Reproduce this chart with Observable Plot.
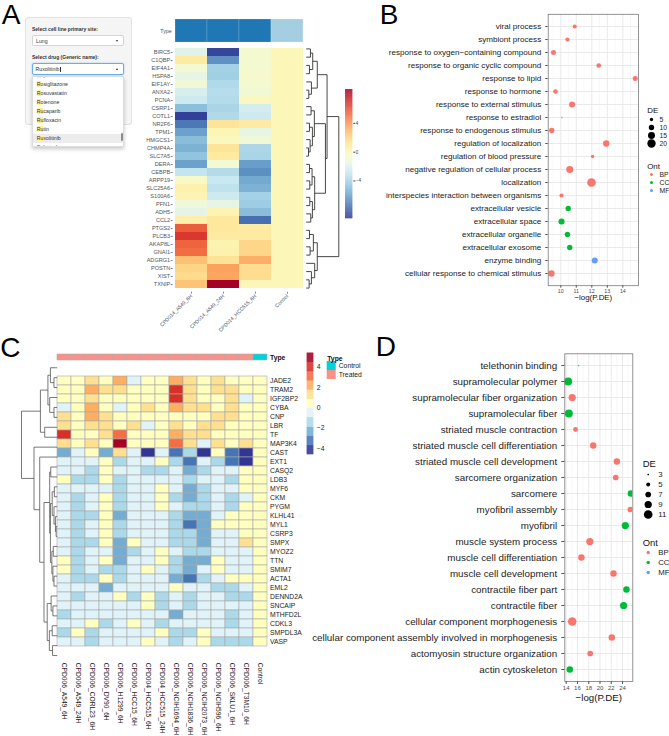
<!DOCTYPE html>
<html>
<head>
<meta charset="utf-8">
<script src="https://cdn.jsdelivr.net/npm/d3@7"></script>
<script src="https://cdn.jsdelivr.net/npm/@observablehq/plot@0.6"></script>
<style>
html,body{margin:0;padding:0;background:#fff;}
#page{position:relative;width:669px;height:736px;overflow:hidden;background:#fff;}
</style>
</head>
<body>
<div id="page"></div>
<script>
// ====================== DATA ======================
// --- Panel A: app widget ---
const widgetLabels = ["Select cell line primary site:", "Select drug (Generic name):"];
const widgetSite = "Lung";
const widgetDrug = "Ruxolitinib";
const widgetQuery = "Ru";
const drugOptions = ["Ropinirole", "Rosiglitazone", "Rosuvastatin", "Rotenone", "Rucaparib", "Rufloxacin", "Rutin", "Ruxolitinib", "Sabutoclax"];

// --- Panel A: heatmap ---
const colsA = ["CPD014_A549_6H", "CPD014_A549_24H", "CPD014_HCC515_6H", "Control"];
const typeA = ["Treated", "Treated", "Treated", "Control"];
const typeLevelsA = ["Treated", "Control"];
const typeColorsA = ["#1f78b4", "#a6cee3"];
const genesA = ["BIRC5","C1QBP","EIF4A1","HSPA8","EIF1AY","ANXA2","PCNA","CSRP1","COTL1","NR2F6","TPM1","HMGCS1","CHMP4A","SLC7A5","DERA","CEBPB","ARPP19","SLC25A6","S100A6","PFN1","ADH5","CCL2","PTGS2","PLCB3","AKAP8L","GNAI1","ADGRG1","POSTN","XIST","TXNIP"];
const a549_6h   = [-1.9, 0.9,-0.9,-1.6,-1.1,-2.3,-2.6,-4.9,-9.0,-7.3,-6.0,-5.0,-5.4,-4.7,-6.0,-3.0,-0.5, 0.4, 0.2,-1.2,-1.7, 0.5, 5.6, 6.7, 5.4, 5.1, 2.6, 1.9, 1.6, 2.5];
const a549_24h  = [-8.8,-6.5,-4.1,-4.2,-3.7,-3.5,-3.6,-3.9,-3.7, 1.2, 0.1,-0.2, 1.2, 0.9,-0.9,-3.6,-2.8,-3.2,-2.6,-1.6, 0.2, 1.0, 1.0, 0.9, 0.3, 0.4, 1.3, 3.6, 3.5, 8.7];
const hcc515_6h = [-0.8,-0.8,-0.8,-0.7,-0.8,-1.0,-0.3,-2.4,-2.6, 0.9,-1.6,-1.1,-3.8,-3.9,-6.1,-6.6,-5.7,-5.4,-4.1,-4.3,-5.0,-7.6, 0.8, 0.9, 1.8, 1.8, 3.2, 1.5, 1.5, 0.0];
const controlA  = new Array(30).fill(0);
const rangeA = [-9.25, 8.7];
const ticksA = [4, 0, -4];
// dendrogram: [height, left, right]
const treeA = [10,
  [6.4,
    [3.4, [2.0, [1.3, "BIRC5", "C1QBP"], [1.0, "EIF4A1", "HSPA8"]], [1.6, "EIF1AY", [0.8, "ANXA2", "PCNA"]]],
    [5.9,
      [2.5, [1.5, "CSRP1", "COTL1"], [1.9, [1.0, "NR2F6", "TPM1"], [1.2, "HMGCS1", [0.7, "CHMP4A", "SLC7A5"]]]],
      [2.6, [1.8, [1.0, "DERA", "CEBPB"], [1.1, "ARPP19", "SLC25A6"]], [1.9, [1.1, "S100A6", "PFN1"], [1.4, "ADH5", "CCL2"]]]]],
  [3.4, [2.2, [1.0, "PTGS2", "PLCB3"], [1.2, "AKAP8L", "GNAI1"]], [2.6, "ADGRG1", [1.6, "POSTN", [0.9, "XIST", "TXNIP"]]]]];

// --- Panel B: GO dot plot ---
const termsB = ["viral process","symbiont process","response to oxygen\u2212containing compound","response to organic cyclic compound","response to lipid","response to hormone","response to external stimulus","response to estradiol","response to endogenous stimulus","regulation of localization","regulation of blood pressure","negative regulation of cellular process","localization","interspecies interaction between organisms","extracellular vesicle","extracellular space","extracellular organelle","extracellular exosome","enzyme binding","cellular response to chemical stimulus"];
const logpB = [10.9, 10.43, 9.53, 12.45, 14.8, 9.66, 10.73, 10.07, 9.42, 12.93, 12.05, 10.58, 11.98, 10.05, 10.48, 10.05, 10.43, 10.58, 12.19, 9.4];
const deB   = [7, 7, 9, 8, 9, 8, 12, 2, 10, 13, 5, 15, 22, 7, 10, 12, 10, 10, 12, 13];
const ontB  = ["BP","BP","BP","BP","BP","BP","BP","BP","BP","BP","BP","BP","BP","BP","CC","CC","CC","CC","MF","BP"];
const xDomainB = [9.19, 15.01];
const xTicksB = [10, 11, 12, 13, 14];
const xMinorB = [9.5, 10.5, 11.5, 12.5, 13.5, 14.5];
const deBreaksB = [5, 10, 15, 20];

// --- Panel C: heatmap ---
const colsC = ["CPD006_A549_6H","CPD006_A549_24H","CPD006_CORL23_6H","CPD006_DV90_6H","CPD006_H1299_6H","CPD006_HCC15_6H","CPD004_HCC515_6H","CPD004_HCC515_24H","CPD006_NCIH1694_6H","CPD006_NCIH1836_6H","CPD006_NCIH2073_6H","CPD006_NCIH596_6H","CPD006_SKLU1_6H","CPD006_T3M10_6H","Control"];
const typeC = ["Treated","Treated","Treated","Treated","Treated","Treated","Treated","Treated","Treated","Treated","Treated","Treated","Treated","Treated","Control"];
const typeLevelsC = ["Control", "Treated"];
const typeColorsC = ["#00d1da", "#fa9189"];
const genesC = ["JADE2","TRAM2","IGF2BP2","CYBA","CNP","LBR","TF","MAP3K4","CAST","EXT1","CASQ2","LDB3","MYF6","CKM","PYGM","KLHL41","MYL1","CSRP3","SMPX","MYOZ2","TTN","SMIM7","ACTA1","EML2","DENND2A","SNCAIP","MTHFD2L","CDKL3","SMPDL3A","VASP"];
const valuesC = [
  [ 0.2, 0.2, 1.3, 0.2, 2.2,-0.5, 0.2, 0.2, 2.2, 1.3, 0.2, 1.3, 0.2, 0.2, 0],
  [ 0.2, 0.2, 2.2, 1.3, 1.3, 0.2, 0.2, 0.2, 4.0, 1.3, 0.2, 1.3, 1.3, 0.2, 0],
  [ 0.2, 0.2, 1.3, 0.2, 0.2, 0.2, 0.2, 0.2, 4.0, 1.3, 0.2, 0.2, 1.3,-0.5, 0],
  [-0.5, 0.2, 2.2, 0.2,-0.5, 0.2, 1.3, 0.2, 2.2, 1.3, 1.3, 0.2, 1.3, 0.2, 0],
  [ 1.3, 0.2, 2.2, 1.3, 0.2, 0.2, 0.2, 0.2, 0.2, 0.2, 0.2, 1.3, 1.3, 0.2, 0],
  [ 1.3, 0.2, 1.3, 1.3, 0.2, 1.3,-0.5, 0.2, 1.3, 0.2, 1.3, 1.3, 0.2, 0.2, 0],
  [ 4.0, 0.2, 0.2, 1.3, 3.1, 0.2, 0.2, 0.2, 2.2, 1.3, 1.3, 0.2, 0.2, 0.2, 0],
  [ 1.3, 0.2, 1.3, 0.2, 4.9, 0.2, 0.2, 0.2, 3.1, 1.3,-0.5, 1.3, 0.2, 1.3, 0],
  [-2.3,-0.5, 0.2,-2.3, 1.3,-0.5,-4.2,-0.5,-3.2,-1.4,-4.2, 0.2,-3.2,-4.2, 0],
  [-0.5,-0.5,-0.5, 0.2,-1.4,-0.5,-0.5, 0.2,-1.4,-3.2,-0.5,-1.4,-3.2,-4.2, 0],
  [-0.5,-0.5,-1.4, 0.2,-0.5,-0.5,-1.4,-1.4,-0.5,-2.3,-1.4,-0.5,-0.5, 0.2, 0],
  [ 0.2,-1.4,-1.4, 0.2,-1.4,-0.5,-0.5,-0.5,-0.5,-1.4,-0.5,-0.5,-1.4, 0.2, 0],
  [-0.5,-0.5,-0.5,-0.5,-1.4,-0.5,-0.5, 0.2,-0.5,-2.3,-1.4,-0.5,-0.5, 0.2, 0],
  [-0.5,-1.4,-0.5, 0.2,-1.4,-0.5,-0.5, 0.2,-1.4,-2.3,-1.4,-0.5,-1.4,-0.5, 0],
  [-0.5,-1.4,-0.5, 0.2,-1.4,-0.5,-0.5, 0.2,-0.5,-1.4,-1.4,-0.5,-1.4, 0.2, 0],
  [-0.5,-1.4,-1.4, 0.2,-2.3,-0.5,-0.5,-0.5,-1.4,-2.3,-2.3,-0.5, 0.2, 0.2, 0],
  [-0.5,-1.4,-0.5, 0.2,-1.4,-0.5,-0.5,-0.5,-1.4,-3.2,-2.3, 0.2, 0.2, 0.2, 0],
  [-0.5,-1.4,-0.5, 0.2,-1.4,-0.5,-0.5,-0.5,-1.4,-1.4,-2.3,-0.5,-0.5, 0.2, 0],
  [-0.5,-1.4,-1.4, 0.2,-2.3, 0.2,-0.5,-0.5,-1.4,-1.4,-2.3,-0.5,-0.5, 1.3, 0],
  [-0.5,-1.4,-0.5,-0.5,-2.3,-1.4,-0.5, 0.2,-0.5,-1.4,-1.4,-0.5,-0.5,-0.5, 0],
  [ 0.2,-1.4,-0.5, 0.2,-2.3,-0.5,-0.5, 0.2,-1.4,-2.3,-2.3, 0.2,-0.5,-0.5, 0],
  [ 0.2,-1.4,-0.5,-1.4,-1.4,-0.5, 0.2,-0.5,-1.4,-2.3,-0.5, 0.2,-0.5,-0.5, 0],
  [-0.5,-1.4,-1.4, 0.2,-1.4,-0.5,-0.5,-0.5,-2.3,-3.2,-1.4,-0.5, 0.2, 0.2, 0],
  [-0.5,-0.5,-0.5,-2.3,-0.5,-0.5,-0.5,-0.5, 0.2,-0.5,-0.5,-1.4,-1.4,-0.5, 0],
  [-0.5,-1.4,-0.5,-0.5, 0.2,-1.4, 0.2,-1.4,-0.5,-1.4,-0.5,-0.5,-1.4,-1.4, 0],
  [-0.5,-0.5,-0.5,-0.5,-0.5,-0.5, 0.2,-1.4,-0.5,-1.4,-0.5,-0.5,-0.5,-0.5, 0],
  [-1.4,-0.5,-0.5,-0.5,-0.5,-0.5,-0.5,-0.5,-2.3,-0.5,-0.5,-0.5,-1.4,-0.5, 0],
  [-0.5,-0.5, 0.2,-1.4,-0.5, 0.2,-0.5,-1.4,-0.5,-0.5,-0.5,-0.5,-1.4,-0.5, 0],
  [-1.4, 0.2,-1.4,-0.5,-0.5,-0.5,-0.5, 0.2,-1.4,-1.4, 0.2,-0.5,-0.5,-0.5, 0],
  [-0.5,-0.5,-1.4,-0.5,-0.5,-0.5, 0.2,-0.5,-1.4,-0.5, 0.2,-1.4,-1.4,-1.4, 0]
];
const rangeC = [-4.6, 5.37];
const ticksC = [4, 2, 0, -2, -4];
const treeC = [10,
  [4.7, [2.6, [1.9, "JADE2", [0.9, "TRAM2", "IGF2BP2"]], [2.1, "CYBA", [0.9, "CNP", "LBR"]]], [3.5, "TF", "MAP3K4"]],
  [6.5, "CAST",
    [4.9, "EXT1",
      [3.7,
        [2.1, [1.8, "CASQ2", "LDB3"],
          [1.9, [1.4, [0.8, "MYF6", "CKM"], [0.9, "PYGM", [0.5, "KLHL41", [0.3, "MYL1", "CSRP3"]]]],
                [1.5, [1.1, "SMPX", "MYOZ2"], [1.2, "TTN", [0.9, "SMIM7", "ACTA1"]]]]],
        [2.8, [1.7, "EML2", [1.2, "DENND2A", "SNCAIP"]], [2.2, [1.4, "MTHFD2L", "CDKL3"], [1.3, "SMPDL3A", "VASP"]]]]]]];

// --- Panel D: GO dot plot ---
const termsD = ["telethonin binding","supramolecular polymer","supramolecular fiber organization","supramolecular fiber","striated muscle contraction","striated muscle cell differentiation","striated muscle cell development","sarcomere organization","sarcomere","myofibril assembly","myofibril","muscle system process","muscle cell differentiation","muscle cell development","contractile fiber part","contractile fiber","cellular component morphogenesis","cellular component assembly involved in morphogenesis","actomyosin structure organization","actin cytoskeleton"];
const logpD = [16.2, 14.35, 15.07, 14.47, 15.66, 18.8, 23.0, 22.8, 25.5, 25.4, 24.5, 18.2, 16.7, 22.4, 24.7, 24.2, 15.07, 22.1, 18.26, 14.64];
const deD   = [3, 10, 9, 10, 6, 8, 8, 7, 8, 7, 9, 9, 8, 8, 8, 9, 11, 8, 7, 8];
const ontD  = ["MF","CC","BP","CC","BP","BP","BP","BP","CC","BP","CC","BP","BP","BP","CC","CC","BP","BP","BP","CC"];
const xDomainD = [13.75, 25.83];
const xTicksD = [14, 16, 18, 20, 22, 24];
const xMinorD = [15, 17, 19, 21, 23, 25];
const deBreaksD = [3, 5, 7, 9, 11];

const ontLevels = ["BP", "CC", "MF"];
const ontPalette = ["#F8766D", "#00BA38", "#619CFF"];
const xTitle = "\u2212log(P.DE)";
const panelLetters = ["A", "B", "C", "D"];

// ====================== HELPERS ======================
const FONT = "'Liberation Sans', Arial, Helvetica, sans-serif";
const page = document.getElementById("page");
function put(el, left, top) {
  el.style.position = "absolute";
  el.style.left = left + "px";
  el.style.top = top + "px";
  page.appendChild(el);
  return el;
}
function css(fs) {
  return `background:transparent;font-family:${FONT};font-size:${fs}px;overflow:visible;max-width:none;`;
}
function box(style, text) {
  const e = document.createElement("div");
  e.style.cssText = "position:absolute;white-space:nowrap;" + style;
  if (text != null) e.textContent = text;
  page.appendChild(e);
  return e;
}
function treeSegments(tree, leaves) {
  const segs = [];
  (function walk(n) {
    if (typeof n === "string") return {y: leaves.indexOf(n), h: 0};
    const [h, ...kids] = n;
    const ks = kids.map(walk);
    const ys = ks.map(k => k.y);
    segs.push({x1: h, x2: h, y1: d3.min(ys), y2: d3.max(ys)});
    for (const k of ks) segs.push({x1: k.h, x2: h, y1: k.y, y2: k.y});
    return {y: d3.mean(ys), h};
  })(tree);
  return segs;
}
const intFmt = d3.format("d");

// ====================== PANEL LETTERS ======================
const letterPos = [[1.7, 0.5], [379.7, 0.5], [0.3, 333.6], [375.8, 333]];
panelLetters.forEach((L, i) => box(`left:${letterPos[i][0]}px;top:${letterPos[i][1]}px;font:28px/28px ${FONT};color:#000;`, L));

// ====================== PANEL A: widget ======================
box(`left:25px;top:17px;width:107px;height:108px;background:#f5f5f5;border:1px solid #e3e3e3;border-radius:3px;box-sizing:border-box;`);
box(`left:32px;top:26px;font:bold 5px/6px ${FONT};color:#333;`, widgetLabels[0]);
box(`left:32.3px;top:35px;width:91.7px;height:11px;background:#fff;border:1px solid #d5d5d5;border-radius:2px;box-sizing:border-box;`);
box(`left:36px;top:37.7px;font:5.2px/6px ${FONT};color:#333;`, widgetSite);
box(`left:115.5px;top:40px;width:0;height:0;border-left:1.8px solid transparent;border-right:1.8px solid transparent;border-top:2.2px solid #333;`);
box(`left:32px;top:54.3px;font:bold 5px/6px ${FONT};color:#333;`, widgetLabels[1]);
box(`left:32.3px;top:63.3px;width:91.7px;height:11.7px;background:#fff;border:1px solid #66afe9;border-radius:2px;box-shadow:0 0 2px rgba(102,175,233,.7);box-sizing:border-box;`);
const drugTxt = box(`left:35.5px;top:66px;font:5.2px/6px ${FONT};color:#333;`, widgetDrug);
const cur = document.createElement("span");
cur.style.cssText = "display:inline-block;width:0.5px;height:5.5px;background:#333;vertical-align:middle;margin-left:0.3px;";
drugTxt.appendChild(cur);
box(`left:115.5px;top:68px;width:0;height:0;border-left:1.8px solid transparent;border-right:1.8px solid transparent;border-bottom:2.2px solid #333;`);
const dd = box(`left:32.3px;top:75.5px;width:92px;height:71px;background:#fff;border:1px solid #ddd;box-shadow:0 2px 4px rgba(0,0,0,.22);overflow:hidden;box-sizing:border-box;`);
drugOptions.forEach((opt, i) => {
  const it = document.createElement("div");
  const sel = opt === widgetDrug;
  it.style.cssText = `position:absolute;left:0;top:${-5.85 + i * 9.1}px;width:100%;height:9.1px;background:${sel ? "#ececec" : "transparent"};font:5.2px/9.1px ${FONT};color:#333;white-space:nowrap;`;
  let k = 0; while (k < widgetQuery.length && opt[k] === widgetQuery[k]) k++;
  const hl = document.createElement("span");
  hl.style.cssText = "background:#fff19a;margin-left:3.5px;";
  hl.textContent = opt.slice(0, k);
  it.appendChild(hl);
  it.appendChild(document.createTextNode(opt.slice(k)));
  dd.appendChild(it);
});
box(`left:121.3px;top:133px;width:1.6px;height:7.5px;background:#8a8a8a;border-radius:1px;`);

// ====================== PANEL A: heatmap ======================
const valuesA = [a549_6h, a549_24h, hcc515_6h, controlA];
const cellsA = genesA.flatMap((g, i) => colsA.map((c, j) => ({gene: g, col: c, v: valuesA[j][i]})));
const colorA = {type: "linear", domain: rangeA, scheme: "rdylbu", reverse: true};

put(Plot.plot({
  width: 184.3, height: 23, marginLeft: 52.7, marginRight: 0, marginTop: 0, marginBottom: 0,
  style: css(5.3),
  x: {domain: colsA, padding: 0, axis: null},
  y: {domain: ["Type"], padding: 0},
  color: {domain: typeLevelsA, range: typeColorsA},
  marks: [
    Plot.cell(colsA, {x: d => d, y: () => "Type", fill: (d, i) => typeA[i], stroke: "#ffffff", strokeOpacity: 0.3, strokeWidth: 0.5}),
    Plot.axisY({tickSize: 0, tickPadding: 1.5, fontSize: 5.3, fill: "#555", label: null})
  ]
}), 120, 19.3);

put(Plot.plot({
  width: 184.3, height: 301.7, marginLeft: 52.7, marginRight: 0, marginTop: 4.3, marginBottom: 50,
  style: css(5.6),
  x: {domain: colsA, padding: 0},
  y: {domain: genesA, padding: 0},
  color: colorA,
  marks: [
    Plot.cell(cellsA, {x: "col", y: "gene", fill: "v", shapeRendering: "crispEdges"}),
    Plot.axisX({tickRotate: -45, tickSize: 2, tickPadding: 1, fontSize: 5.1, fill: "#555", stroke: "#888", label: null}),
    Plot.axisY({tickSize: 2, tickPadding: 1, fontSize: 5.6, fill: "#555", stroke: "#888", label: null})
  ]
}), 120, 40);

put(Plot.plot({
  width: 45, height: 260, marginLeft: 5.7, marginRight: 6.7, marginTop: 4.3, marginBottom: 8.3,
  style: css(8),
  x: {domain: [0, 10], axis: null},
  y: {domain: [genesA.length - 0.5, -0.5], axis: null},
  marks: [Plot.link(treeSegments(treeA, genesA), {x1: "x1", y1: "y1", x2: "x2", y2: "y2", stroke: "#333", strokeWidth: 0.9})]
}), 300, 40);

const stepsA = d3.range(rangeA[0], rangeA[1], 0.05);
put(Plot.plot({
  width: 29, height: 140, marginLeft: 5, marginRight: 16.7, marginTop: 5, marginBottom: 5.7,
  style: css(4.6),
  y: {domain: rangeA},
  color: colorA,
  marks: [
    Plot.rect(stepsA, {y1: d => d, y2: d => Math.min(d + 0.07, rangeA[1]), fill: d => d + 0.025}),
    Plot.axisY(ticksA, {anchor: "right", tickSize: 2, tickPadding: 1, fontSize: 4.6, fill: "#444", stroke: "#444", label: null})
  ]
}), 340, 84);

// ====================== PANEL B ======================
const rB = {type: "pow", exponent: 0.5, domain: [2, 21], range: [0.7, 4.3], clamp: true};
const ontScale = {domain: ontLevels, range: ontPalette};
const rowsB = termsB.map((t, i) => ({term: t, p: logpB[i], de: deB[i], ont: ontB[i]}));
put(Plot.plot({
  width: 285, height: 310, marginLeft: 187.7, marginRight: 7, marginTop: 13.8, marginBottom: 24.8,
  style: css(8),
  x: {domain: xDomainB},
  y: {type: "point", domain: termsB, padding: 0.61},
  r: rB, color: ontScale,
  marks: [
    Plot.ruleX(xMinorB, {stroke: "#f1f1f1", strokeWidth: 0.5}),
    Plot.ruleX(xTicksB, {stroke: "#e8e8e8", strokeWidth: 0.9}),
    Plot.ruleY(termsB, {stroke: "#e8e8e8", strokeWidth: 0.9}),
    Plot.dot(rowsB, {x: "p", y: "term", r: "de", fill: "ont", clip: true}),
    Plot.frame({stroke: "#7a7a7a", strokeWidth: 0.8}),
    Plot.axisX({ticks: xTicksB, tickFormat: intFmt, tickSize: 2.5, tickPadding: 0.8, fontSize: 5.3, fill: "#4d4d4d", stroke: "#555", label: null}),
    Plot.axisY({tickSize: 2.5, tickPadding: 4.5, fontSize: 8.1, fill: "#222", stroke: "#555", label: null}),
    Plot.text([xTitle], {frameAnchor: "bottom", dy: 14, fontSize: 7.9, fill: "#111"})
  ]
}), 360, 0);

put(Plot.plot({
  width: 24, height: 50, marginLeft: 6, marginRight: 17, marginTop: 17.3, marginBottom: 6.3,
  style: css(7),
  y: {type: "point", domain: deBreaksB, padding: 0, axis: null},
  r: rB,
  marks: [
    Plot.dot(deBreaksB, {y: d => d, r: d => d, fill: "#000", frameAnchor: "left"}),
    Plot.text(deBreaksB, {y: d => d, text: d => String(d), frameAnchor: "left", dx: 8, textAnchor: "start", fontSize: 6.8, fill: "#222"}),
    Plot.text(["DE"], {frameAnchor: "top-left", dx: -4.3, dy: -10.6, textAnchor: "start", fontSize: 7.9, fill: "#111"})
  ]
}), 645, 100);

put(Plot.plot({
  width: 24, height: 42, marginLeft: 6, marginRight: 17, marginTop: 18.3, marginBottom: 6.3,
  style: css(7),
  y: {type: "point", domain: ontLevels, padding: 0, axis: null},
  color: ontScale,
  marks: [
    Plot.dot(ontLevels, {y: d => d, r: 1.5, fill: d => d, frameAnchor: "left"}),
    Plot.text(ontLevels, {y: d => d, text: d => d, frameAnchor: "left", dx: 8, textAnchor: "start", fontSize: 6.8, fill: "#222"}),
    Plot.text(["Ont"], {frameAnchor: "top-left", dx: -4.3, dy: -10, textAnchor: "start", fontSize: 7.9, fill: "#111"})
  ]
}), 645, 155);

// ====================== PANEL C ======================
const cellsC = genesC.flatMap((g, i) => colsC.map((c, j) => ({gene: g, col: c, v: valuesC[i][j]})));
const thresholdsC = d3.range(1, 11).map(k => rangeC[0] + k * (rangeC[1] - rangeC[0]) / 11);
const colorC = {type: "threshold", domain: thresholdsC, range: d3.schemeRdYlBu[11].slice().reverse()};

put(Plot.plot({
  width: 270, height: 10, marginLeft: 6.7, marginRight: 52, marginTop: 3.3, marginBottom: 0,
  style: css(6.8),
  x: {domain: colsC, padding: 0, axis: null},
  y: {domain: ["Type"], padding: 0},
  color: {domain: typeLevelsC, range: typeColorsC},
  marks: [
    Plot.cell(colsC, {x: d => d, y: () => "Type", fill: (d, i) => typeC[i], stroke: "#b0b0b0", strokeWidth: 0.6}),
    Plot.axisY({anchor: "right", tickSize: 0, tickPadding: 1.5, fontSize: 6.8, fontWeight: "bold", fill: "#111", label: null})
  ]
}), 50, 350);

put(Plot.plot({
  width: 270, height: 386, marginLeft: 6.7, marginRight: 52, marginTop: 12.3, marginBottom: 76,
  style: css(6.8),
  x: {domain: colsC, padding: 0},
  y: {domain: genesC, padding: 0},
  color: colorC,
  marks: [
    Plot.cell(cellsC, {x: "col", y: "gene", fill: "v", stroke: "#a8a8a8", strokeWidth: 0.6}),
    Plot.axisX({tickRotate: 90, tickSize: 0, tickPadding: 2.2, fontSize: 6.7, fill: "#222", label: null}),
    Plot.axisY({anchor: "right", tickSize: 0, tickPadding: 1.5, fontSize: 6.8, fill: "#222", label: null})
  ]
}), 50, 350);

put(Plot.plot({
  width: 60, height: 320, marginLeft: 21, marginRight: 3.3, marginTop: 12.3, marginBottom: 10,
  style: css(8),
  x: {domain: [10, 0], axis: null},
  y: {domain: [genesC.length - 0.5, -0.5], axis: null},
  marks: [Plot.link(treeSegments(treeC, genesC), {x1: "x1", y1: "y1", x2: "x2", y2: "y2", stroke: "#555", strokeWidth: 0.8})]
}), 0, 350);

const stepsC = d3.range(rangeC[0], rangeC[1], 0.05);
put(Plot.plot({
  width: 40, height: 115, marginLeft: 6.7, marginRight: 26.7, marginTop: 7.7, marginBottom: 5.7,
  style: css(6.8),
  y: {domain: rangeC},
  color: colorC,
  marks: [
    Plot.rect(stepsC, {y1: d => d, y2: d => Math.min(d + 0.07, rangeC[1]), fill: d => d + 0.025}),
    Plot.axisY(ticksC, {anchor: "right", tickSize: 0, tickPadding: 3, fontSize: 6.8, fill: "#222", label: null})
  ]
}), 300, 345);

put(Plot.plot({
  width: 60, height: 32, marginLeft: 4.7, marginRight: 46.3, marginTop: 10.7, marginBottom: 3.3,
  style: css(6.8),
  y: {domain: typeLevelsC, padding: 0, axis: null},
  color: {domain: typeLevelsC, range: typeColorsC},
  marks: [
    Plot.cell(typeLevelsC, {y: d => d, fill: d => d}),
    Plot.text(typeLevelsC, {y: d => d, text: d => d, frameAnchor: "right", dx: 2.5, textAnchor: "start", fontSize: 6.8, fill: "#222"}),
    Plot.text(["Type"], {frameAnchor: "top-left", dy: -5, textAnchor: "start", fontSize: 6.8, fontWeight: "bold", fill: "#111"})
  ]
}), 322, 350);

// ====================== PANEL D ======================
const rD = {type: "pow", exponent: 0.5, domain: [2.6, 11], range: [0.6, 4.3], clamp: true};
const rowsD = termsD.map((t, i) => ({term: t, p: logpD[i], de: deD[i], ont: ontD[i]}));
put(Plot.plot({
  width: 345, height: 370, marginLeft: 264.3, marginRight: 12.7, marginTop: 13.3, marginBottom: 29,
  style: css(9.8),
  x: {domain: xDomainD},
  y: {type: "point", domain: termsD, padding: 0.56},
  r: rD, color: ontScale,
  marks: [
    Plot.ruleX(xMinorD, {stroke: "#f1f1f1", strokeWidth: 0.5}),
    Plot.ruleX(xTicksD, {stroke: "#e8e8e8", strokeWidth: 0.9}),
    Plot.ruleY(termsD, {stroke: "#e8e8e8", strokeWidth: 0.9}),
    Plot.dot(rowsD, {x: "p", y: "term", r: "de", fill: "ont", clip: true}),
    Plot.frame({stroke: "#7a7a7a", strokeWidth: 0.8}),
    Plot.axisX({ticks: xTicksD, tickFormat: intFmt, tickSize: 3, tickPadding: 1.3, fontSize: 6, fill: "#4d4d4d", stroke: "#555", label: null}),
    Plot.axisY({tickSize: 3, tickPadding: 4.6, fontSize: 9.8, fill: "#222", stroke: "#555", label: null}),
    Plot.text([xTitle], {frameAnchor: "bottom", dy: 19.7, fontSize: 9.7, fill: "#111"})
  ]
}), 300, 340);

put(Plot.plot({
  width: 29, height: 72, marginLeft: 7.7, marginRight: 19, marginTop: 22.7, marginBottom: 6,
  style: css(7.8),
  y: {type: "point", domain: deBreaksD, padding: 0, axis: null},
  r: rD,
  marks: [
    Plot.dot(deBreaksD, {y: d => d, r: d => d, fill: "#000", frameAnchor: "left"}),
    Plot.text(deBreaksD, {y: d => d, text: d => String(d), frameAnchor: "left", dx: 10, textAnchor: "start", fontSize: 7.8, fill: "#222"}),
    Plot.text(["DE"], {frameAnchor: "top-left", dx: -5.4, dy: -12.7, textAnchor: "start", fontSize: 9.4, fill: "#111"})
  ]
}), 640, 450);

put(Plot.plot({
  width: 29, height: 50, marginLeft: 7.7, marginRight: 19, marginTop: 21.3, marginBottom: 7.3,
  style: css(7.8),
  y: {type: "point", domain: ontLevels, padding: 0, axis: null},
  color: ontScale,
  marks: [
    Plot.dot(ontLevels, {y: d => d, r: 1.7, fill: d => d, frameAnchor: "left"}),
    Plot.text(ontLevels, {y: d => d, text: d => d, frameAnchor: "left", dx: 10, textAnchor: "start", fontSize: 7.8, fill: "#222"}),
    Plot.text(["Ont"], {frameAnchor: "top-left", dx: -5.4, dy: -12.3, textAnchor: "start", fontSize: 9.4, fill: "#111"})
  ]
}), 640, 530);
</script>
</body>
</html>
